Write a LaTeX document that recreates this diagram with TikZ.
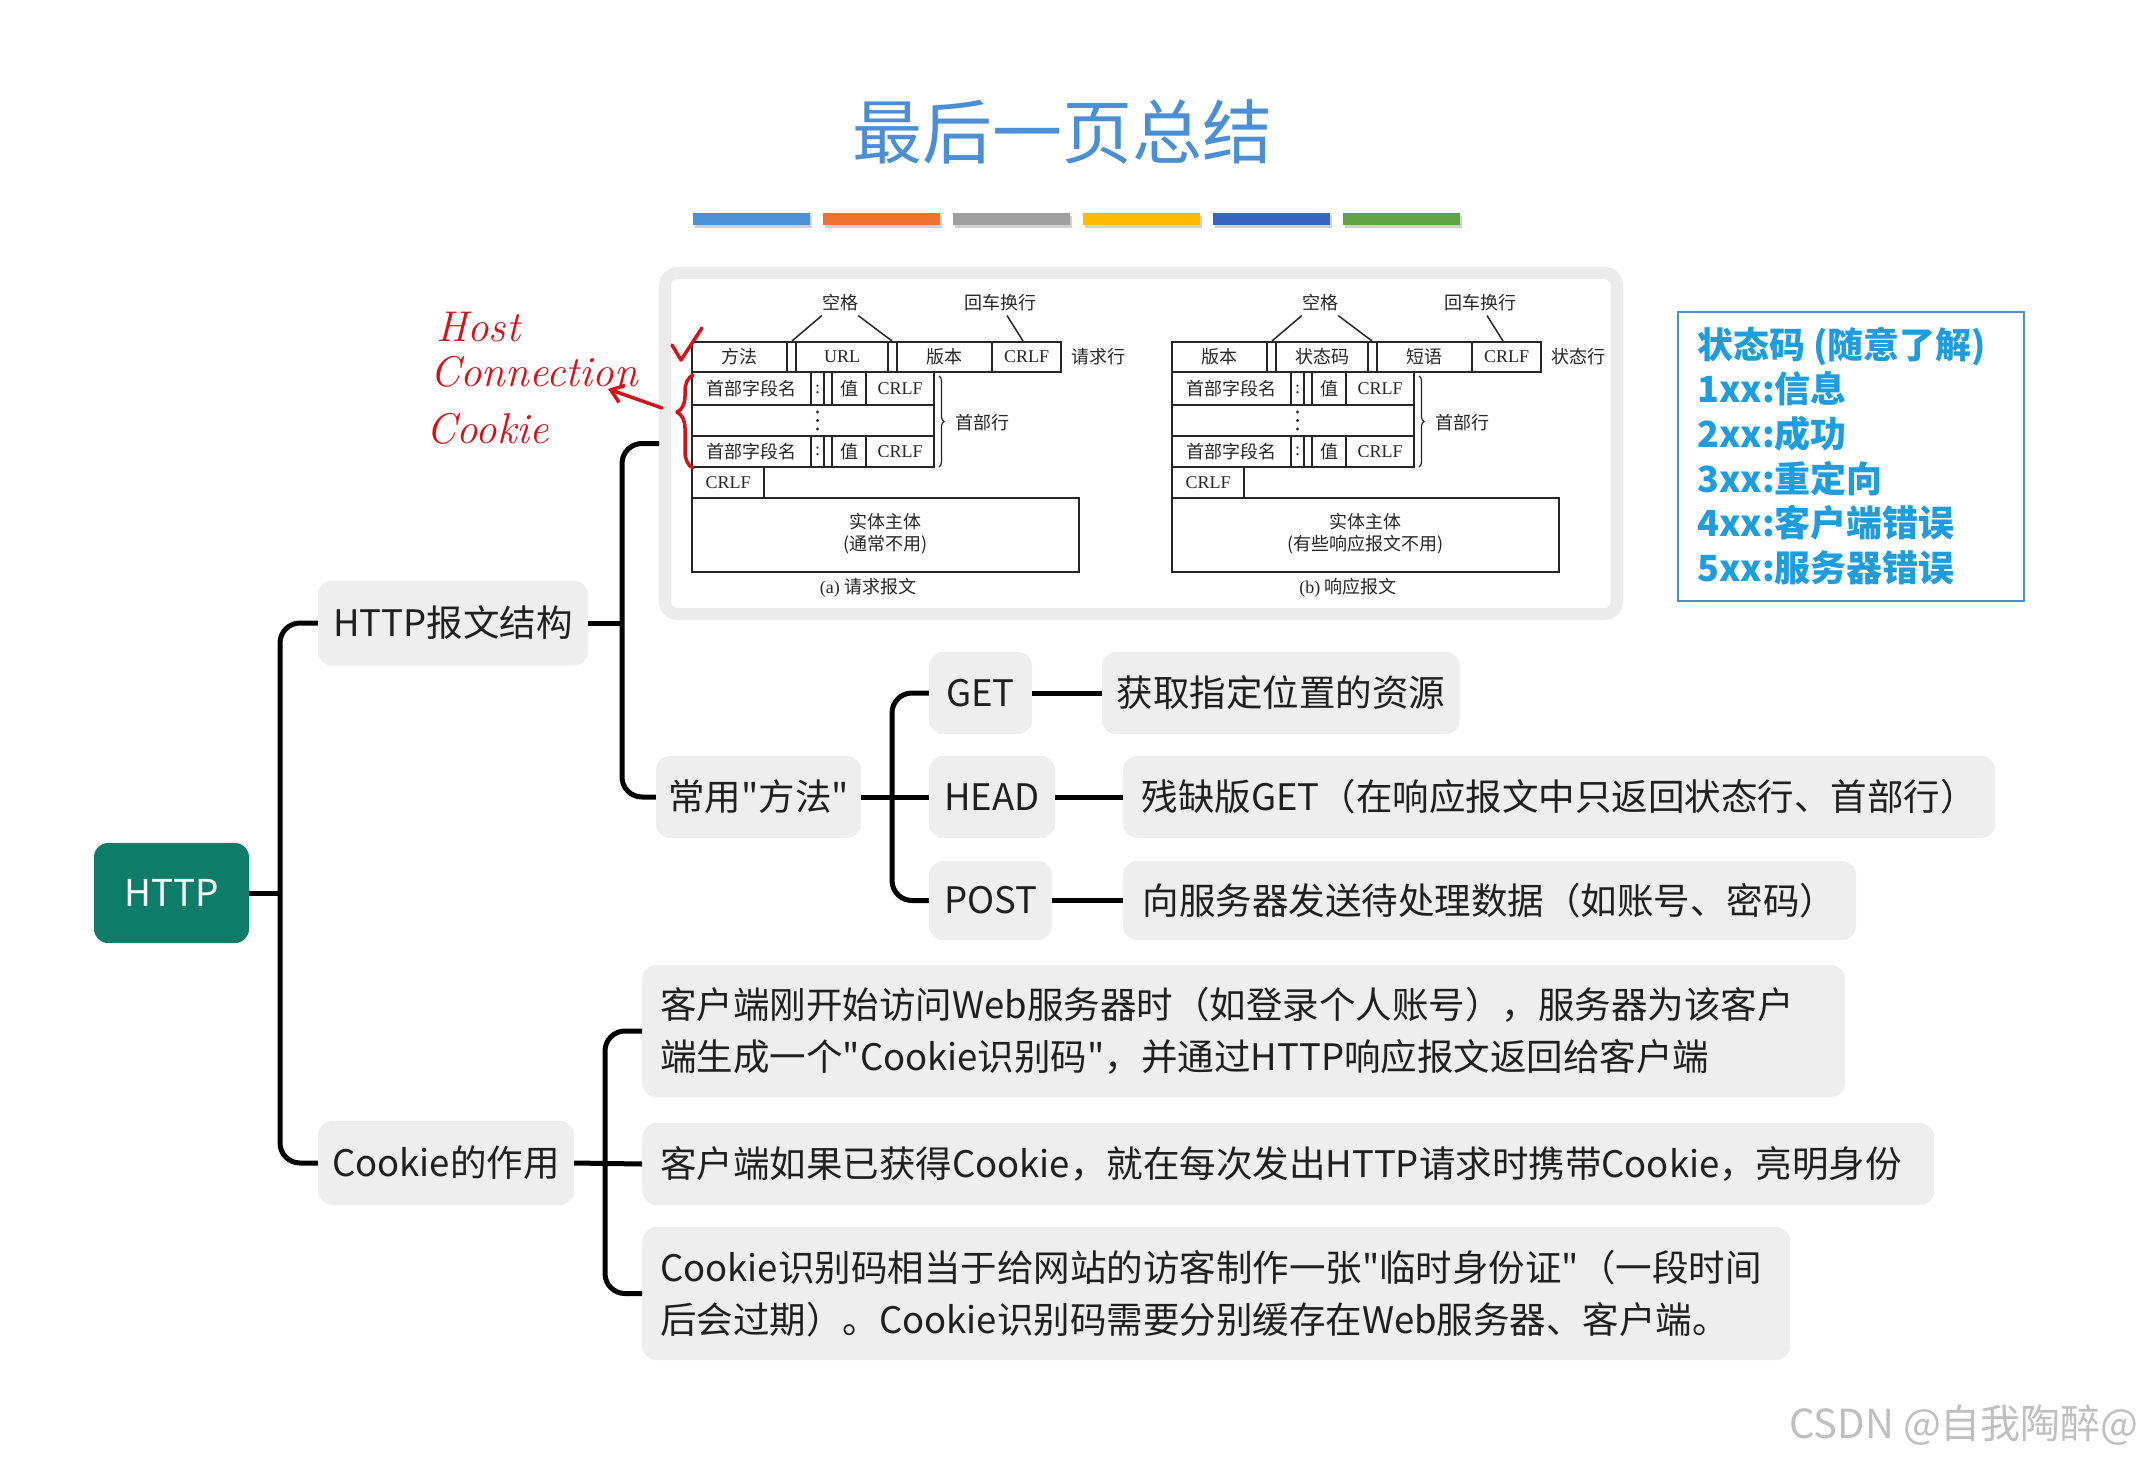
\documentclass[tikz,border=0pt]{standalone}
\usepackage{fontspec}
\usetikzlibrary{arrows.meta,decorations.pathreplacing}
\newfontfamily\cjk{Noto Sans CJK SC}
\newfontfamily\tms{Liberation Serif}
\definecolor{httpgreen}{HTML}{0D7D6A}
\definecolor{mmgray}{HTML}{EEEEEE}
\definecolor{titleblue}{HTML}{4A8ED6}
\definecolor{sttext}{HTML}{1E9CE0}
\definecolor{stborder}{HTML}{4A90CF}
\definecolor{redink}{HTML}{D4121A}
\definecolor{imgframe}{HTML}{EBEBEB}
\definecolor{bA}{HTML}{4A90D6}
\definecolor{bB}{HTML}{EE7130}
\definecolor{bC}{HTML}{A0A0A0}
\definecolor{bD}{HTML}{FFB900}
\definecolor{bE}{HTML}{3A62C0}
\definecolor{bF}{HTML}{5FA242}
\newcommand\msgdiag[8]{%
\begin{scope}[xshift=#2pt]
\draw[ln] (692,342) rectangle (1061,372);
\foreach \x in {787,796,888,897,992} \draw[ln] (\x,342) -- (\x,372);
\draw[ln] (692,372) rectangle (934,467);
\draw[ln] (692,405) -- (934,405) (692,436) -- (934,436);
\foreach \x in {811,824,832,866} \draw[ln] (\x,372) -- (\x,405) (\x,436) -- (\x,467);
\draw[ln] (692,467) rectangle (764,498);
\draw[ln] (692,498) rectangle (1079,572);
\foreach \y in {412,420.5,429} \fill[black!85] (817.5,\y) circle (1.6);
\draw[ln, line width=1.2pt, decorate, decoration={brace, amplitude=5pt}] (939,376) -- (939,467);
\node[sm] (#1sp) at (840,303) {空格};
\coordinate (#1s1) at (792,341);
\coordinate (#1s2) at (892,341);
\draw[ln, line width=1.5pt] ([xshift=0pt,yshift=-4pt]#1sp.south west) -- (#1s1);
\draw[ln, line width=1.5pt] ([xshift=0pt,yshift=-4pt]#1sp.south east) -- (#1s2);
\node[sm] (#1cr) at (1000,303) {回车换行};
\coordinate (#1s3) at (1023,341);
\draw[ln, line width=1.5pt] ([xshift=7pt,yshift=-4pt]#1cr.south) -- (#1s3);
\node[sm] (#1a) at (739.5,357) {#3};
\node[sm] (#1b) at (842,357) {#4};
\node[sm] (#1c) at (944.5,357) {#5};
\node[smr] (#1d) at (1026.5,357) {CRLF};
\node[sm] (#1rl) at (1098,357) {#6};
\node[sm] (#1h1) at (751.5,389) {首部字段名};
\node[smr] (#1h2) at (817.5,389) {:};
\node[sm] (#1h3) at (849,389) {值};
\node[smr] (#1h4) at (900,389) {CRLF};
\node[sm] (#1k1) at (751.5,451.5) {首部字段名};
\node[smr] (#1k2) at (817.5,451.5) {:};
\node[sm] (#1k3) at (849,451.5) {值};
\node[smr] (#1k4) at (900,451.5) {CRLF};
\node[sm] (#1hl) at (982,423) {首部行};
\node[smr] (#1e) at (728,482.5) {CRLF};
\node[sm, align=center] (#1body) at (885.5,534) {实体主体\\#7};
\node[sm] (#1cap) at (868,588) {{\tms #8}};
\end{scope}}
\begin{document}
\begin{tikzpicture}[x=1pt,y=-1pt,
  mm/.style={fill=mmgray, rounded corners=14pt, inner sep=0pt, font=\cjk\fontsize{36.5}{48}\selectfont, text=black!88},
  conn/.style={draw=black, line width=5pt, rounded corners=20pt},
  ln/.style={draw=black!85, line width=2pt},
  sm/.style={font=\cjk\fontsize{18}{22}\selectfont, inner sep=0pt, text=black!85},
  smr/.style={font=\tms\fontsize{18}{22}\selectfont, inner sep=0pt, text=black!85},
  ink/.style={draw=redink, line width=3.5pt, line cap=round, line join=round},
  hand/.style={font=\rmfamily\itshape\fontsize{43}{46}\selectfont, text=redink, anchor=west, inner sep=0pt},
]
\useasboundingbox (0,0) rectangle (2143,1461);
\fill[white] (0,0) rectangle (2143,1461);
% title
\node[font=\cjk\fontsize{70}{76}\selectfont, text=titleblue] (title) at (1062,132) {最后一页总结};
\foreach \c [count=\i from 0] in {bA,bB,bC,bD,bE,bF} {
  \fill[black!18] (695+\i*130,216) rectangle ++(117,12);
  \fill[\c] (693+\i*130,213) rectangle ++(117,12);
}
% image frame
\node[draw=imgframe, line width=12pt, fill=white, rounded corners=12pt, minimum width=952pt, minimum height=341pt, inner sep=0pt] (img) at (1141,443.5) {};
\msgdiag{q}{0}{方法}{\tms URL}{版本}{请求行}{(通常不用)}{(a) {\cjk 请求报文}}
\msgdiag{r}{480}{版本}{状态码}{短语}{状态行}{(有些响应报文不用)}{(b) {\cjk 响应报文}}
% red annotations
\node[hand] (host) at (436,327) {Host};
\node[hand] (conn) at (430,372) {Connection};
\node[hand] (cook) at (426,429) {Cookie};
\draw[ink, decorate, decoration={brace, amplitude=16pt, aspect=0.6}] (693,468) -- (693,375);
\coordinate (arS) at (662,408);
\coordinate (arE) at (608,389);
\draw[ink, -{Straight Barb[length=12pt,width=18pt]}] (arS) -- (arE);
\coordinate (ck1) at (672,345);
\coordinate (ck2) at (681,360);
\coordinate (ck3) at (702,328);
\draw[ink] (ck1) -- (ck2) -- (ck3);
% status box
\node[draw=stborder, line width=2.5pt, fill=white, minimum width=346pt, minimum height=289pt, inner sep=0pt] (stbox) at (1851,456.5) {};
\node[font=\cjk\bfseries\fontsize{36}{44.6}\selectfont, text=sttext, align=left, anchor=west, inner sep=0pt] (sttxt) at (1697,456) {状态码 (随意了解)\\1xx:信息\\2xx:成功\\3xx:重定向\\4xx:客户端错误\\5xx:服务器错误};
% mind map
\node[fill=httpgreen, rounded corners=14pt, minimum width=155pt, minimum height=100pt, inner sep=0pt, font=\cjk\fontsize{37}{44}\selectfont, text=white] (http) at (171.5,893) {HTTP};
\node[mm, minimum width=270pt, minimum height=85pt] (n1) at (453,623) {HTTP报文结构};
\node[mm, minimum width=256pt, minimum height=84pt] (n2) at (446,1163) {Cookie的作用};
\node[mm, minimum width=205pt, minimum height=82pt] (m) at (758.5,797) {常用"方法"};
\node[mm, minimum width=103pt, minimum height=82pt] (get) at (980.5,693) {GET};
\node[mm, minimum width=126pt, minimum height=82pt] (head) at (992,797) {HEAD};
\node[mm, minimum width=123pt, minimum height=79pt] (post) at (990.5,900.5) {POST};
\node[mm, minimum width=358pt, minimum height=82pt] (getd) at (1281,693) {获取指定位置的资源};
\node[mm, minimum width=872pt, minimum height=82pt, anchor=west, inner xsep=18pt, align=left] (headd) at (1123,797) {残缺版GET（在响应报文中只返回状态行、首部行）};
\node[mm, minimum width=733pt, minimum height=79pt, anchor=west, inner xsep=18pt, align=left] (postd) at (1123,900.5) {向服务器发送待处理数据（如账号、密码）};
\node[mm, minimum width=1203pt, minimum height=132pt, anchor=west, inner xsep=18pt, align=left, font=\cjk\fontsize{36.5}{52}\selectfont, text width=1167pt] (c1) at (642,1031) {客户端刚开始访问Web服务器时（如登录个人账号），服务器为该客户\\端生成一个"Cookie识别码"，并通过HTTP响应报文返回给客户端};
\node[mm, minimum width=1292pt, minimum height=82pt, anchor=west, inner xsep=18pt, align=left, text width=1256pt] (c2) at (642,1164) {客户端如果已获得Cookie，就在每次发出HTTP请求时携带Cookie，亮明身份};
\node[mm, minimum width=1148pt, minimum height=133pt, anchor=west, inner xsep=18pt, align=left, font=\cjk\fontsize{36.5}{52}\selectfont, text width=1112pt] (c3) at (642,1293.5) {Cookie识别码相当于给网站的访客制作一张"临时身份证"（一段时间\\后会过期）。Cookie识别码需要分别缓存在Web服务器、客户端。};
% connectors
\coordinate (t1) at (280,893);
\coordinate (t2) at (622,623);
\coordinate (t3) at (892,797);
\coordinate (t4) at (605,1163);
\draw[conn] (http.east) -- (t1);
\draw[conn] (n1.west) -| (t1) |- (n2.west);
\draw[conn] (n1.east) -- (t2);
\draw[conn] (img.west) -| (t2) |- (m.west);
\draw[conn] (m.east) -- (head.west);
\draw[conn] (get.west) -| (t3) |- (post.west);
\draw[conn] (get.east) -- (getd.west);
\draw[conn] (head.east) -- (headd.west);
\draw[conn] (post.east) -- (postd.west);
\draw[conn] (n2.east) -- (c2.west);
\draw[conn] (c1.west) -| (t4) |- (c3.west);
% watermark
\node[font=\cjk\fontsize{40}{44}\selectfont, text=black!25, anchor=east, inner sep=0pt] (wm) at (2139,1425) {CSDN @自我陶醉@};
\end{tikzpicture}
\end{document}
